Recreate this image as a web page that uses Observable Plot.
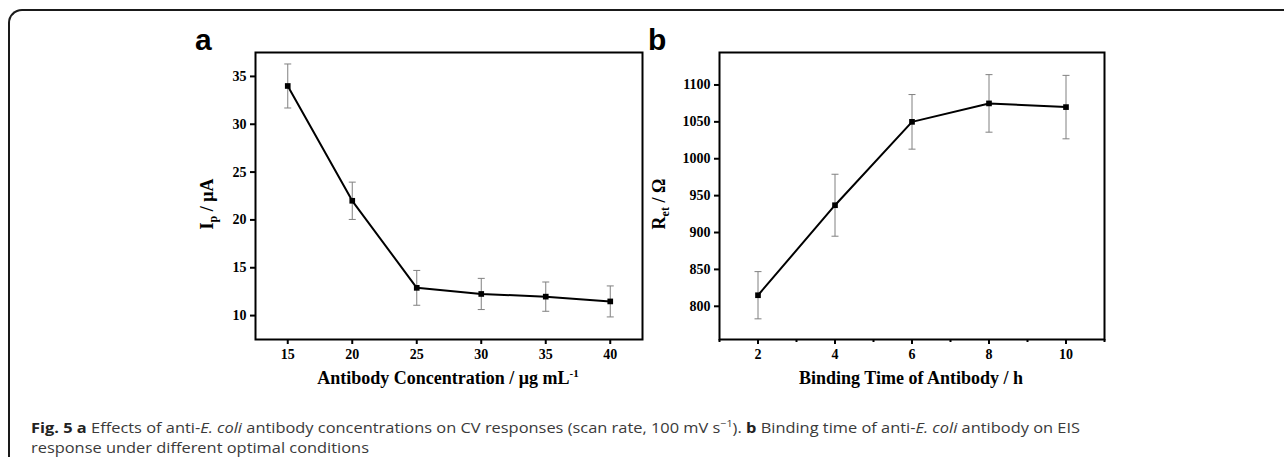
<!DOCTYPE html>
<html><head><meta charset="utf-8">
<script src="https://cdn.jsdelivr.net/npm/d3@7"></script>
<script src="https://cdn.jsdelivr.net/npm/@observablehq/plot@0.6"></script>
<style>
html,body{margin:0;padding:0;background:#fff;}
body{width:1284px;height:457px;overflow:hidden;position:relative;}
#frame{position:absolute;left:8px;top:9px;width:1400px;height:600px;border-top:2px solid #1a1a1a;border-left:2px solid #1a1a1a;border-top-left-radius:14px;box-sizing:border-box;}
.panel{position:absolute;top:0;}
.letter{position:absolute;font-family:"Liberation Sans",Arial,sans-serif;font-weight:bold;font-size:30px;line-height:30px;color:#000;}
.cap{position:absolute;left:31px;font-family:"Open Sans",sans-serif;font-size:14.6px;line-height:18px;color:#3a3a3a;white-space:nowrap;transform-origin:0 0;}
.cap b{color:#222;}
.cap sup{font-size:9.5px;line-height:0;vertical-align:6px;}
</style></head>
<body>
<div id="frame"></div>
<div class="letter" style="left:195px;top:25px;">a</div>
<div class="letter" style="left:648px;top:25px;">b</div>
<div id="panelA" class="panel" style="left:150px;"></div>
<div id="panelB" class="panel" style="left:650px;"></div>
<div id="cap1" class="cap" style="top:418px;"><b>Fig. 5</b> <b>a</b> Effects of anti-<i>E. coli</i> antibody concentrations on CV responses (scan rate, 100 mV s<sup>−1</sup>). <b>b</b> Binding time of anti-<i>E. coli</i> antibody on EIS</div>
<div id="cap2" class="cap" style="top:438px;">response under different optimal conditions</div>
<script>
// Panel a data
const concA = [15, 20, 25, 30, 35, 40];
const ipA = [34.0, 22.0, 12.9, 12.26, 11.98, 11.48];
const errA = [2.3, 1.95, 1.82, 1.63, 1.53, 1.62];
const xTicksA = [15, 20, 25, 30, 35, 40];
const yTicksA = [10, 15, 20, 25, 30, 35];

// Panel b data
const timeB = [2, 4, 6, 8, 10];
const retB = [815, 937, 1050, 1075, 1070];
const errB = [32, 42, 37, 39, 43];
const xTicksB = [2, 4, 6, 8, 10];
const xMinorB = [1, 3, 5, 7, 9, 11];
const yTicksB = [800, 850, 900, 950, 1000, 1050, 1100];

const dataA = concA.map((x, i) => ({x, y: ipA[i], lo: ipA[i] - errA[i], hi: ipA[i] + errA[i]}));
const dataB = timeB.map((x, i) => ({x, y: retB[i], lo: retB[i] - errB[i], hi: retB[i] + errB[i]}));

const cap = {draw(ctx, size) { const w = Math.sqrt(size / Math.PI); ctx.moveTo(-w, 0); ctx.lineTo(w, 0); }};
const errColor = "#808080";
const fmt = d => String(d);

const style = {fontFamily: "Liberation Serif, serif", fontWeight: "bold", fontSize: "14px", color: "#000", background: "transparent"};

function seriesMarks(data) {
  return [
    Plot.line(data, {x: "x", y: "y", stroke: "#000", strokeWidth: 2}),
    Plot.link(data, {x1: "x", x2: "x", y1: "lo", y2: "hi", stroke: errColor, strokeWidth: 1}),
    Plot.dot(data, {x: "x", y: "hi", symbol: cap, r: 3.5, fill: "none", stroke: errColor, strokeWidth: 1}),
    Plot.dot(data, {x: "x", y: "lo", symbol: cap, r: 3.5, fill: "none", stroke: errColor, strokeWidth: 1}),
    Plot.dot(data, {x: "x", y: "y", symbol: "square", r: 3.2, fill: "#000", stroke: "none"})
  ];
}

const plotA = Plot.plot({
  width: 500, height: 400,
  marginLeft: 105, marginRight: 8, marginTop: 52, marginBottom: 61,
  x: {domain: [12.5, 42.5]},
  y: {domain: [7.5, 37.5]},
  style,
  marks: [
    Plot.axisX({ticks: xTicksA, tickFormat: fmt, tickSize: 5, tickPadding: 5, strokeWidth: 2, label: null}),
    Plot.axisY({ticks: yTicksA, tickFormat: fmt, tickSize: 5, tickPadding: 4, strokeWidth: 2, label: null}),
    ...seriesMarks(dataA),
    Plot.frame({stroke: "#000", strokeWidth: 2})
  ]
});

const plotB = Plot.plot({
  width: 500, height: 400,
  marginLeft: 69, marginRight: 46, marginTop: 52, marginBottom: 61,
  x: {domain: [1, 11]},
  y: {domain: [755, 1144]},
  style,
  marks: [
    Plot.axisX({ticks: xMinorB, tickSize: 3, strokeWidth: 2, tickFormat: () => "", label: null}),
    Plot.axisX({ticks: xTicksB, tickFormat: fmt, tickSize: 5, tickPadding: 5, strokeWidth: 2, label: null}),
    Plot.axisY({ticks: yTicksB, tickFormat: fmt, tickSize: 5, tickPadding: 4, strokeWidth: 2, label: null}),
    ...seriesMarks(dataB),
    Plot.frame({stroke: "#000", strokeWidth: 2})
  ]
});

document.getElementById("panelA").appendChild(plotA);
document.getElementById("panelB").appendChild(plotB);

function addLabels(svg, xText, yParts, xPos, yLabelX) {
  const s = d3.select(svg).style("overflow", "visible");
  const font = "Liberation Serif, serif";
  const tx = s.append("text")
    .attr("x", xPos).attr("y", 384)
    .attr("text-anchor", "middle")
    .attr("font-family", font).attr("font-weight", "bold").attr("font-size", 18).attr("fill", "#000");
  xText.forEach(p => {
    const t = tx.append("tspan").text(p.t);
    if (p.sup) t.attr("dy", -7).attr("font-size", 11);
  });
  const ty = s.append("text")
    .attr("transform", `translate(${yLabelX},204) rotate(-90)`)
    .attr("text-anchor", "middle")
    .attr("font-family", font).attr("font-weight", "bold").attr("font-size", 18).attr("fill", "#000");
  yParts.forEach(p => {
    const t = ty.append("tspan").text(p.t);
    if (p.sub) t.attr("dy", 4).attr("font-size", 12);
    if (p.after) t.attr("dy", -4);
  });
}

addLabels(plotA,
  [{t: "Antibody Concentration / μg mL"}, {t: "-1", sup: true}],
  [{t: "I"}, {t: "p", sub: true}, {t: " / μA", after: true}],
  298, 63);
addLabels(plotB,
  [{t: "Binding Time of Antibody / h"}],
  [{t: "R"}, {t: "et", sub: true}, {t: " / Ω", after: true}],
  261, 15);

// fit caption width to the reference line length
const c1 = document.getElementById("cap1");
const c2 = document.getElementById("cap2");
const sx = 1049 / c1.getBoundingClientRect().width;
c1.style.transform = `scaleX(${sx})`;
c2.style.transform = `scaleX(${sx})`;
</script>
</body></html>
